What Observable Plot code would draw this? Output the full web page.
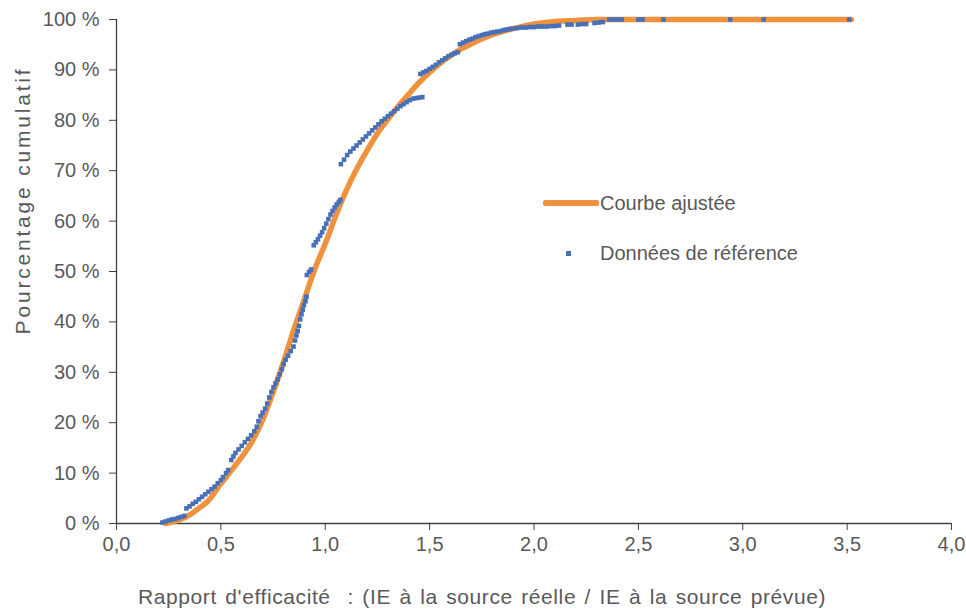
<!DOCTYPE html>
<html><head><meta charset="utf-8">
<script src="https://cdn.jsdelivr.net/npm/d3@7"></script>
<script src="https://cdn.jsdelivr.net/npm/@observablehq/plot@0.6"></script>
<style>
body{margin:0;background:#fff;}
#wrap{position:relative;width:966px;height:614px;overflow:hidden;}
.lg{position:absolute;font-family:"Liberation Sans",Arial,sans-serif;font-size:20px;color:#595959;line-height:1;white-space:nowrap;}
</style></head><body><div id="wrap"></div>
<script>
// Fitted curve
const fitX = [0.235,0.30,0.355,0.40,0.435,0.50,0.55,0.60,0.65,0.70,0.75,0.80,0.85,0.90,0.95,1.00,1.05,1.10,1.15,1.20,1.25,1.30,1.35,1.40,1.45,1.50,1.55,1.60,1.65,1.70,1.80,1.90,2.00,2.10,2.20,2.30,2.50,3.00,3.52];
const fitY = [0,0.7,1.8,3.2,4.3,7.9,10.5,13.2,16.3,20.5,26,32,38.5,44.5,50.5,55.5,61,66,70.3,74,77.4,80.2,82.8,85.2,87.5,89.5,91.3,92.8,94.1,95.2,97,98.2,99.1,99.6,99.8,100,100,100,100];
// Reference data points
const refX = [0.22,0.235,0.25,0.265,0.28,0.295,0.31,0.325,0.335,0.35,0.365,0.38,0.395,0.41,0.425,0.44,0.455,0.47,0.485,0.50,0.51,0.525,0.535,0.55,0.56,0.57,0.585,0.60,0.615,0.63,0.645,0.66,0.672,0.68,0.69,0.70,0.712,0.722,0.732,0.742,0.752,0.762,0.772,0.782,0.792,0.80,0.81,0.822,0.835,0.848,0.855,0.862,0.868,0.874,0.88,0.886,0.892,0.898,0.905,0.91,0.912,0.922,0.932,0.945,0.955,0.965,0.975,0.985,0.995,1.005,1.015,1.025,1.035,1.045,1.055,1.065,1.072,1.075,1.09,1.105,1.12,1.135,1.15,1.165,1.18,1.195,1.21,1.225,1.24,1.255,1.27,1.285,1.30,1.315,1.33,1.345,1.36,1.375,1.39,1.405,1.42,1.435,1.45,1.465,1.456,1.47,1.485,1.50,1.515,1.53,1.545,1.56,1.575,1.59,1.605,1.62,1.635,1.645,1.66,1.675,1.69,1.705,1.72,1.735,1.75,1.765,1.78,1.795,1.81,1.825,1.84,1.855,1.87,1.885,1.90,1.92,1.94,1.96,1.98,2.00,2.02,2.04,2.06,2.08,2.10,2.12,2.16,2.18,2.21,2.23,2.25,2.29,2.31,2.33,2.36,2.38,2.40,2.42,2.50,2.52,2.62,2.94,3.10,3.51];
const refY = [0.2,0.4,0.6,0.8,0.9,1.1,1.3,1.5,3.0,3.4,3.9,4.3,4.8,5.3,5.8,6.3,6.8,7.3,8.0,8.6,9.2,10.0,10.6,12.6,13.3,14.0,14.7,15.4,16.1,16.8,17.5,18.3,19.2,20.3,21.3,22.0,22.8,23.8,25.0,26.1,27.0,27.8,28.6,29.6,30.6,31.6,32.5,33.3,34.2,35.1,36.3,37.3,38.2,39.2,40.5,41.5,42.4,43.3,44.1,45.0,49.3,49.9,50.4,55.2,55.8,56.4,57.1,57.8,58.6,59.5,60.4,61.3,62.0,62.7,63.3,63.8,64.2,71.3,72.2,73.1,73.8,74.4,75.0,75.6,76.2,76.8,77.4,78.0,78.6,79.2,79.8,80.3,80.8,81.3,81.8,82.3,82.8,83.2,83.6,84.0,84.3,84.4,84.5,84.6,89.2,89.5,89.8,90.2,90.6,91.0,91.5,91.9,92.3,92.7,93.0,93.3,93.5,95.1,95.4,95.7,96.0,96.2,96.5,96.7,96.9,97.1,97.2,97.4,97.5,97.6,97.7,97.9,98.0,98.1,98.2,98.3,98.4,98.4,98.5,98.5,98.6,98.6,98.6,98.7,98.7,98.8,99.0,99.0,99.0,99.1,99.1,99.3,99.4,99.5,100,100,100,100,100,100,100,100,100,100];
const xTicks = [0,0.5,1,1.5,2,2.5,3,3.5,4];
const yTicks = [0,10,20,30,40,50,60,70,80,90,100];
const seriesNames = ["Courbe ajustée","Données de référence"];
const xLabel = "Rapport d'efficacité\u00a0 : (IE à la source réelle / IE à la source prévue)";
const yLabel = "Pourcentage cumulatif";

const fit = fitX.map((x,i)=>({x, y: fitY[i]}));
const ref = refX.map((x,i)=>({x, y: refY[i]}));
const ORANGE = "#F0923D", BLUE = "#4770B7", TXT = "#595959", AX = "#404040";

const plot = Plot.plot({
  width: 966, height: 614,
  marginLeft: 116, marginRight: 15, marginTop: 19, marginBottom: 91,
  style: {fontFamily: "'Liberation Sans', Arial, sans-serif", fontSize: "20px", background: "#fff", color: TXT},
  x: {domain: [0, 4]},
  y: {domain: [0, 100]},
  marks: [
    Plot.axisX({ticks: xTicks, tickFormat: d => d.toFixed(1).replace(".", ","), tickSize: 7, tickPadding: 6, label: null, stroke: AX, fill: TXT}),
    Plot.axisY({ticks: yTicks, tickFormat: d => d + " %", tickSize: 7, tickPadding: 10, label: null, stroke: AX, fill: TXT}),
    Plot.ruleY([0], {stroke: AX, strokeWidth: 1.3}),
    Plot.ruleX([0], {stroke: AX, strokeWidth: 1.3}),
    Plot.line(fit, {x: "x", y: "y", stroke: ORANGE, strokeWidth: 5.5, curve: "monotone-x"}),
    Plot.dot(ref, {x: "x", y: "y", symbol: "square", r: 2.6, fill: BLUE}),
    Plot.text([xLabel], {frameAnchor: "bottom", textAnchor: "middle", lineAnchor: "middle", dx: -52, dy: 74, fill: TXT, fontSize: 21, style: "letter-spacing:0.6px;word-spacing:2px"}),
    Plot.text([yLabel], {frameAnchor: "left", textAnchor: "middle", lineAnchor: "middle", rotate: -90, dx: -93, dy: -71, fill: TXT, fontSize: 21})
  ]
});
const wrap = document.getElementById("wrap");
wrap.appendChild(plot);
// letter spacing for axis titles
const texts = plot.querySelectorAll("text");
texts.forEach(t => {
  if (t.textContent === xLabel) { t.style.letterSpacing = "0.6px"; t.style.wordSpacing = "2px"; }
  if (t.textContent === yLabel) { t.style.letterSpacing = "2.8px"; }
});

// Legend overlay
function add(html, css){ const d=document.createElement("div"); d.className="lg"; d.style.cssText=css; d.innerHTML=html; wrap.appendChild(d); }
add("", `left:543px;top:200px;width:56px;height:6px;background:${ORANGE};border-radius:2px;`);
add(seriesNames[0], "left:600px;top:193px;");
add("", `left:566px;top:251px;width:5px;height:5px;background:${BLUE};`);
add(seriesNames[1], "left:600px;top:243px;");
</script></body></html>
